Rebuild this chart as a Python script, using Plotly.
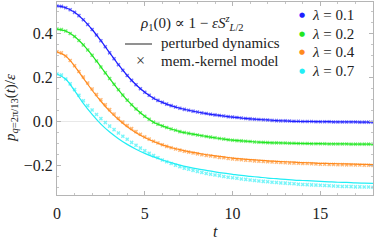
import numpy as np
import plotly.graph_objects as go

# ---- data ----
lambdas = ["0.1", "0.2", "0.4", "0.7"]
colors = ["#1f1fff", "#22e622", "#ff8a1e", "#22eef5"]

t_line = [i * 0.5 for i in range(37)]      # 0 ... 18
t_mark = [i * 0.25 for i in range(73)]     # 0 ... 18

line_blue = [0.523, 0.515, 0.494, 0.460, 0.416, 0.365, 0.310, 0.256, 0.207, 0.165,
             0.131, 0.104, 0.085, 0.070, 0.058, 0.049, 0.041, 0.034, 0.028, 0.023,
             0.018, 0.014, 0.010, 0.007, 0.005, 0.002, 0.001, -0.001, -0.002, -0.002,
             -0.003, -0.003, -0.004, -0.004, -0.004, -0.005, -0.005]
line_green = [0.418, 0.409, 0.384, 0.346, 0.299, 0.246, 0.193, 0.142, 0.095, 0.055,
              0.022, -0.005, -0.022, -0.036, -0.048, -0.056, -0.063, -0.070, -0.076, -0.082,
              -0.087, -0.090, -0.093, -0.096, -0.098, -0.099, -0.100, -0.101, -0.102, -0.103,
              -0.103, -0.104, -0.104, -0.104, -0.105, -0.105, -0.105]
line_orange = [0.315, 0.295, 0.250, 0.195, 0.140, 0.090, 0.045, 0.007, -0.026, -0.053,
               -0.075, -0.093, -0.108, -0.120, -0.130, -0.139, -0.146, -0.153, -0.158, -0.163,
               -0.168, -0.172, -0.175, -0.178, -0.181, -0.183, -0.185, -0.187, -0.189, -0.190,
               -0.192, -0.193, -0.194, -0.195, -0.196, -0.197, -0.198]
line_cyan = [0.214, 0.190, 0.138, 0.080, 0.030, -0.014, -0.050, -0.080, -0.106, -0.128,
             -0.147, -0.163, -0.177, -0.189, -0.200, -0.209, -0.217, -0.224, -0.231, -0.237,
             -0.242, -0.247, -0.251, -0.255, -0.259, -0.262, -0.265, -0.268, -0.270, -0.272,
             -0.274, -0.276, -0.278, -0.279, -0.281, -0.282, -0.283]

mark_blue = [0.523, 0.521, 0.515, 0.506, 0.494, 0.479, 0.460, 0.439, 0.416, 0.391,
             0.365, 0.338, 0.310, 0.283, 0.256, 0.231, 0.207, 0.185, 0.165, 0.147,
             0.131, 0.117, 0.104, 0.094, 0.085, 0.077, 0.070, 0.064, 0.058, 0.053,
             0.049, 0.045, 0.041, 0.037, 0.034, 0.031, 0.028, 0.025, 0.023, 0.020,
             0.018, 0.016, 0.014, 0.012, 0.010, 0.008, 0.007, 0.006, 0.005, 0.003,
             0.002, 0.001, 0.001, 0.000, -0.001, -0.001, -0.002, -0.002, -0.002, -0.003,
             -0.003, -0.003, -0.003, -0.004, -0.004, -0.004, -0.004, -0.004, -0.004, -0.005,
             -0.005, -0.005, -0.005]
mark_green = [0.418, 0.416, 0.409, 0.398, 0.384, 0.366, 0.346, 0.323, 0.299, 0.273,
              0.246, 0.219, 0.193, 0.167, 0.142, 0.118, 0.095, 0.074, 0.055, 0.038,
              0.022, 0.008, -0.005, -0.014, -0.022, -0.029, -0.036, -0.042, -0.048, -0.052,
              -0.056, -0.060, -0.063, -0.067, -0.070, -0.073, -0.076, -0.079, -0.082, -0.085,
              -0.087, -0.089, -0.090, -0.092, -0.093, -0.095, -0.096, -0.097, -0.098, -0.099,
              -0.099, -0.100, -0.100, -0.101, -0.101, -0.102, -0.102, -0.102, -0.103, -0.103,
              -0.103, -0.103, -0.104, -0.104, -0.104, -0.104, -0.104, -0.105, -0.105, -0.105,
              -0.105, -0.105, -0.105]
mark_orange = [0.315, 0.310, 0.296, 0.275, 0.251, 0.225, 0.200, 0.173, 0.146, 0.121,
               0.097, 0.074, 0.052, 0.032, 0.013, -0.004, -0.020, -0.034, -0.048, -0.060,
               -0.072, -0.082, -0.092, -0.100, -0.108, -0.115, -0.121, -0.127, -0.132, -0.137,
               -0.141, -0.145, -0.149, -0.153, -0.156, -0.159, -0.162, -0.165, -0.167, -0.170,
               -0.172, -0.174, -0.176, -0.178, -0.179, -0.181, -0.182, -0.184, -0.185, -0.186,
               -0.187, -0.188, -0.189, -0.190, -0.191, -0.192, -0.193, -0.193, -0.194, -0.195,
               -0.196, -0.196, -0.197, -0.197, -0.198, -0.198, -0.199, -0.199, -0.200, -0.200,
               -0.201, -0.201, -0.202]
mark_cyan = [0.214, 0.209, 0.191, 0.169, 0.143, 0.117, 0.092, 0.070, 0.050, 0.030,
             0.011, -0.007, -0.023, -0.039, -0.054, -0.069, -0.083, -0.097, -0.110, -0.123,
             -0.135, -0.146, -0.157, -0.167, -0.177, -0.185, -0.193, -0.201, -0.207, -0.214,
             -0.219, -0.224, -0.229, -0.234, -0.238, -0.242, -0.245, -0.248, -0.252, -0.255,
             -0.258, -0.260, -0.263, -0.265, -0.268, -0.270, -0.272, -0.274, -0.276, -0.278,
             -0.279, -0.281, -0.282, -0.284, -0.285, -0.287, -0.288, -0.289, -0.290, -0.291,
             -0.292, -0.293, -0.294, -0.295, -0.296, -0.297, -0.297, -0.298, -0.299, -0.299,
             -0.300, -0.300, -0.301]

x_ticks = [0, 5, 10, 15]
y_ticks = [-0.2, 0.0, 0.2, 0.4]
y_ticktext = ["\u22120.2", "0.0", "0.2", "0.4"]

lines = [line_blue, line_green, line_orange, line_cyan]
marks = [mark_blue, mark_green, mark_orange, mark_cyan]

# ---- figure ----
W, H = 374, 246
L, R, T, B = 57, 1, 2, 51
pw, ph = W - L - R, H - T - B


def px(x):
    return (x - L) / pw


def py(y):
    return (H - B - y) / ph


SERIF = "Liberation Serif, DejaVu Serif, serif"
fig = go.Figure()
for lv, mv, c in zip(lines, marks, colors):
    fig.add_trace(go.Scatter(x=t_mark, y=mv, mode="markers",
                             marker=dict(symbol="x", size=3.6, color=c, opacity=0.6,
                                         line=dict(width=0)),
                             showlegend=False, hoverinfo="skip"))
for lv, mv, c in zip(lines, marks, colors):
    fig.add_trace(go.Scatter(x=t_line, y=lv, mode="lines",
                             line=dict(color=c, width=1.2, shape="spline"),
                             showlegend=False, hoverinfo="skip"))

axis_common = dict(
    showline=True, mirror="ticks", linecolor="#b5b5b5", linewidth=1,
    ticks="inside", ticklen=4, tickcolor="#b5b5b5", showgrid=False,
    automargin=False,
    tickfont=dict(family=SERIF, size=16, color="#222"),
)
fig.update_xaxes(range=[0, 18], tickvals=x_ticks, zeroline=False,
                 minor=dict(ticks="inside", ticklen=2, dtick=1, tickcolor="#c5c5c5"),
                 ticklabelstandoff=4, **axis_common)
fig.update_yaxes(range=[-0.336, 0.541], tickvals=y_ticks, ticktext=y_ticktext,
                 zeroline=True, zerolinecolor="#e8e8e8", zerolinewidth=1,
                 minor=dict(ticks="inside", ticklen=2, dtick=0.05, tickcolor="#c5c5c5"),
                 ticklabelstandoff=0, **axis_common)

ann = []
fs = 15
ann.append(dict(x=px(192), y=py(23), text="<i>ρ</i><sub>1</sub>(0) ∝ 1 − <i>εS</i><sup><i>z</i></sup><sub><i>L</i>/2</sub>",
                xanchor="center", yanchor="middle", font=dict(family=SERIF, size=fs, color="#222")))
ann.append(dict(x=px(159), y=py(43), text="perturbed dynamics",
                xanchor="left", yanchor="middle", font=dict(family=SERIF, size=fs, color="#222")))
ann.append(dict(x=px(159), y=py(61), text="mem.-kernel model",
                xanchor="left", yanchor="middle", font=dict(family=SERIF, size=fs, color="#222")))
ann.append(dict(x=px(140), y=py(61), text="×",
                xanchor="center", yanchor="middle", font=dict(family=SERIF, size=16, color="#333")))
for i, (lam, c) in enumerate(zip(lambdas, colors)):
    yy = [15, 33.5, 52, 70.5][i]
    ann.append(dict(x=px(302), y=py(yy), text="●", xanchor="center", yanchor="middle",
                    font=dict(family="DejaVu Sans", size=7, color=c)))
    ann.append(dict(x=px(310), y=py(yy), text="<i>λ</i> = " + lam, xanchor="left", yanchor="middle",
                    font=dict(family=SERIF, size=fs, color="#222")))
ann.append(dict(x=px(11), y=py(108), text="<i>p</i><sub><i>q</i>=2π/13</sub>(<i>t</i>)/<i>ε</i>",
                textangle=-90, xanchor="center", yanchor="middle",
                font=dict(family=SERIF, size=15, color="#222")))
ann.append(dict(x=px(215), y=py(231), text="<i>t</i>", xanchor="center", yanchor="middle",
                font=dict(family=SERIF, size=16, color="#222")))
for a in ann:
    a.update(xref="paper", yref="paper", showarrow=False)

shapes = [dict(type="line", xref="paper", yref="paper", x0=px(125), x1=px(152),
               y0=py(44), y1=py(44), line=dict(color="#555", width=1.3))]

fig.update_layout(width=W, height=H, margin=dict(l=L, r=R, t=T, b=B, autoexpand=False),
                  plot_bgcolor="white", paper_bgcolor="white",
                  annotations=ann, shapes=shapes, showlegend=False)
fig.write_html("out.html", config={"displayModeBar": False},
               post_script="document.body.style.margin='0';document.body.style.padding='0';")
